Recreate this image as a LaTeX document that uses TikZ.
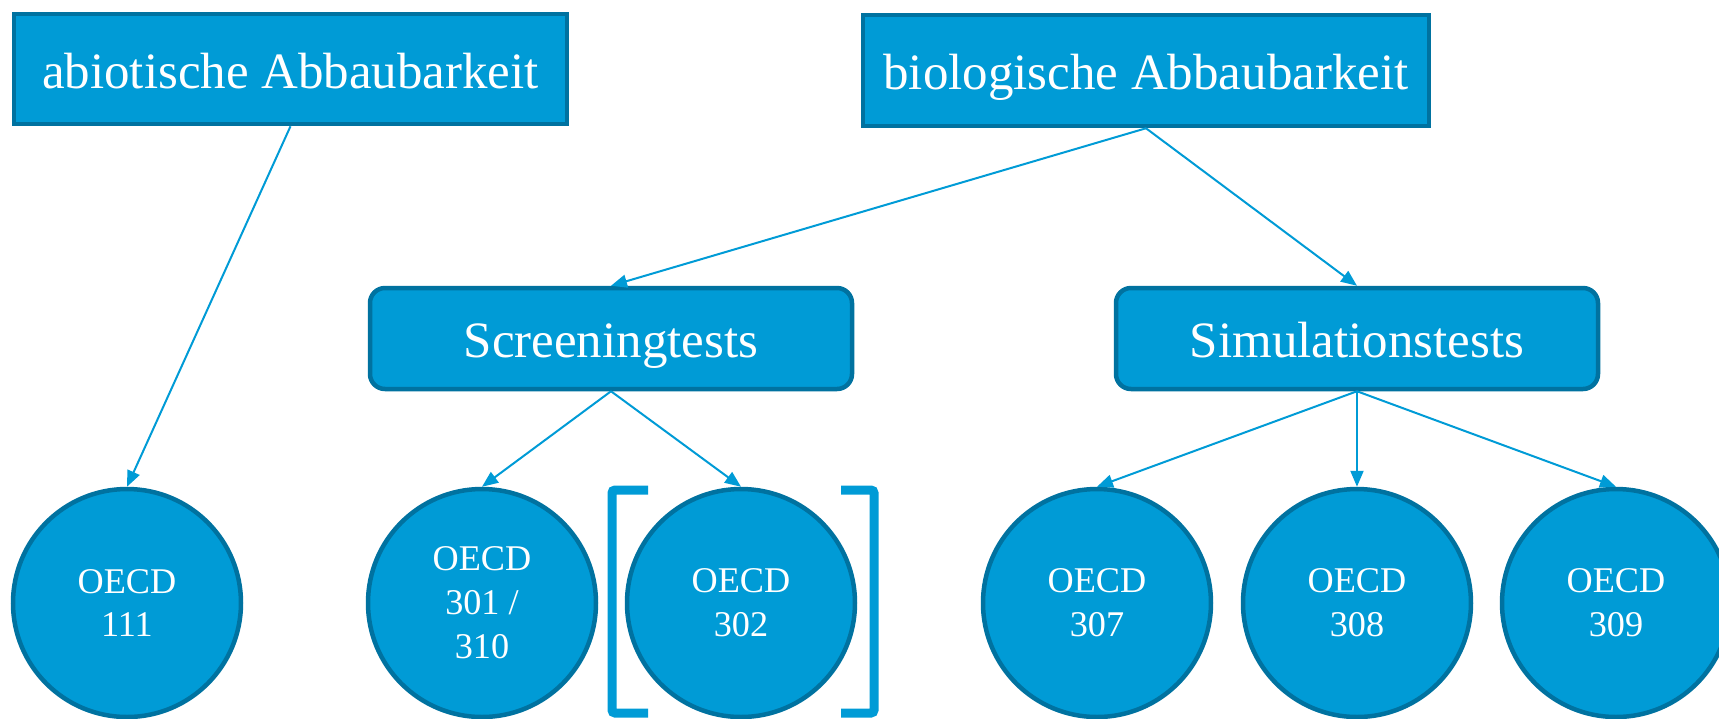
\documentclass[tikz,border=0pt]{standalone}
\usepackage{fontspec}
\setmainfont{Liberation Serif}
\usetikzlibrary{arrows.meta}
\definecolor{oecdblau}{RGB}{0,155,214}
\definecolor{oecdrand}{RGB}{0,114,160}

\begin{document}
\begin{tikzpicture}[
    kasten/.style={draw=oecdrand,fill=oecdblau,line width=.045cm,text=white,inner sep=0pt,
      text height=13pt,text depth=2pt,font=\fontsize{14.5}{17}\selectfont},
    testkasten/.style={kasten,rounded corners=.15cm,minimum width=4.82cm,minimum height=1.01cm},
    kreis/.style={circle,draw=oecdrand,fill=oecdblau,line width=.045cm,text=white,inner sep=0pt,
      minimum size=2.28cm,align=center,font=\fontsize{10.3}{12.5}\selectfont},
    pfeil/.style={draw=oecdblau,line width=.02cm,-{Triangle[length=.16cm,width=.13cm]}},
    klammer/.style={draw=oecdblau,line width=.09cm,rounded corners=.03cm}]
    \useasboundingbox (0,0) rectangle (17.19,-7.18);
    \node[kasten,minimum width=5.53cm,minimum height=1.10cm] (abiotisch) at (2.905,-.69) {abiotische Abbaubarkeit};
    \node[kasten,minimum width=5.66cm,minimum height=1.11cm] (biologisch) at (11.46,-.705) {biologische Abbaubarkeit};
    \node[testkasten] (screening) at (6.11,-3.385) {Screeningtests};
    \node[testkasten] (simulation) at (13.57,-3.385) {Simulationstests};
    \node[kreis] (o111) at (1.27,-6.03) {OECD\\111};
    \node[kreis] (o301) at (4.82,-6.03) {OECD\\301 /\\310};
    \node[kreis] (o302) at (7.41,-6.03) {OECD\\302};
    \node[kreis] (o307) at (10.97,-6.03) {OECD\\307};
    \node[kreis] (o308) at (13.57,-6.03) {OECD\\308};
    \node[kreis] (o309) at (16.16,-6.03) {OECD\\309};
    \draw[pfeil] (abiotisch.south) -- (o111.north);
    \draw[pfeil] (biologisch.south) -- (screening.north);
    \draw[pfeil] (biologisch.south) -- (simulation.north);
    \draw[pfeil] (screening.south) -- (o301.north);
    \draw[pfeil] (screening.south) -- (o302.north);
    \draw[pfeil] (simulation.south) -- (o307.north);
    \draw[pfeil] (simulation.south) -- (o308.north);
    \draw[pfeil] (simulation.south) -- (o309.north);
    \draw[klammer] (6.48,-4.90) -- (6.12,-4.90) -- (6.12,-7.13) -- (6.48,-7.13);
    \draw[klammer] (8.41,-4.90) -- (8.74,-4.90) -- (8.74,-7.13) -- (8.41,-7.13);
\end{tikzpicture}
\end{document}
